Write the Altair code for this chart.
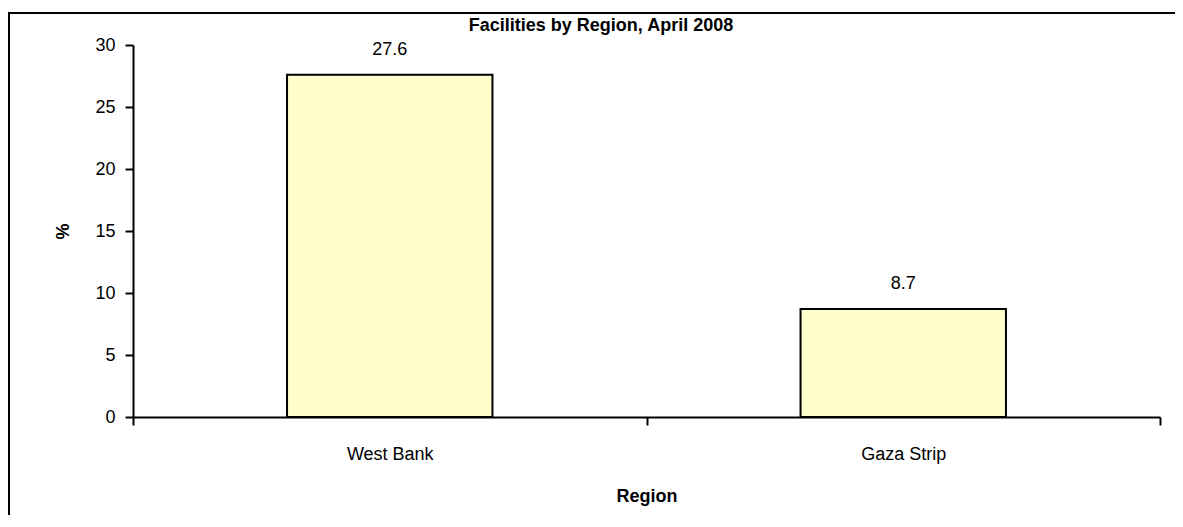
import altair as alt
import pandas as pd

regions = ["West Bank", "Gaza Strip"]
values = [27.6, 8.7]
y_ticks = [0, 5, 10, 15, 20, 25, 30]
title_text = ["Facilities by Region, April 2008"]
x_title = "Region"
y_title = "%"

FONT = "Arial"

df = pd.DataFrame({"Region": regions, "Percent": values})
frame_df = pd.DataFrame({"k": [0]})
title_df = pd.DataFrame({"t": title_text})

x_enc = alt.X(
    "Region:N",
    sort=regions,
    title=x_title,
    scale=alt.Scale(paddingInner=0, paddingOuter=0),
    axis=alt.Axis(
        labelAngle=0, tickBand="extent", tickSize=8, tickWidth=2, tickColor="black",
        domainColor="black", domainWidth=2, labelFontSize=18, labelColor="black",
        labelFont=FONT, labelPadding=20, titleFont=FONT, titleFontSize=18,
        titleFontWeight="bold", titleColor="black", titleY=79, titleBaseline="middle",
        grid=False,
    ),
)
y_enc = alt.Y(
    "Percent:Q",
    title=y_title,
    scale=alt.Scale(domain=[0, 30], nice=False),
    axis=alt.Axis(
        values=y_ticks, tickSize=8, tickWidth=2, tickColor="black", domainColor="black",
        domainWidth=2, labelFontSize=18, labelColor="black", labelFont=FONT, labelPadding=10,
        titleFont=FONT, titleFontSize=18, titleFontWeight="bold", titleColor="black",
        titleX=-70, titleY=186, titleAngle=270, titleBaseline="middle", titleAlign="center",
        grid=False,
    ),
)

base = alt.Chart(df)
bars = base.mark_bar(
    fill="#FFFFCC", stroke="black", strokeWidth=2, width=alt.RelativeBandSize(0.4)
).encode(x=x_enc, y=y_enc)
labels = base.mark_text(
    dy=-20, baseline="alphabetic", fontSize=18, font=FONT, color="black"
).encode(x=alt.X("Region:N", sort=regions), y="Percent:Q", text=alt.Text("Percent:Q", format=".1f"))

frame = alt.Chart(frame_df).mark_rect(fillOpacity=0, stroke="black", strokeWidth=2).encode(
    x=alt.value(-124), x2=alt.value(1080), y=alt.value(-32), y2=alt.value(600)
)
title = alt.Chart(title_df).mark_text(
    fontSize=18, font=FONT, fontWeight="bold", color="black", baseline="alphabetic", align="center"
).encode(x=alt.value(468), y=alt.value(-14), text="t:N")

chart = alt.layer(frame, bars, labels, title).properties(
    width=1027,
    height=372,
    autosize=alt.AutoSizeParams(type="none"),
    padding={"left": 125, "top": 37, "right": 15, "bottom": 98},
    background="white",
).configure_view(strokeWidth=0)

chart.save("out.html", embed_options={"renderer": "svg", "actions": False})
